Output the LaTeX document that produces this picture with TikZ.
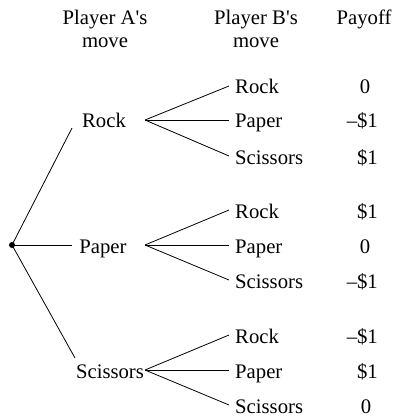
\documentclass[tikz,border=0pt]{standalone}
\usepackage{fontspec}
\setmainfont{Liberation Serif}[Ligatures=TeXOff]
\begin{document}
\begin{tikzpicture}[x=1pt,y=-1pt,
  every node/.style={font=\fontsize{20.7}{23}\selectfont, inner sep=0pt, text height=18pt, text depth=2pt},
  lbl/.style={anchor=west, inner xsep=6pt, inner ysep=0pt},
  pay/.style={anchor=east},
  branch/.style={line width=0.8pt}]
\useasboundingbox (0,0) rectangle (395,417);
% headers
\node (hA1) at (105,17) {Player A's};
\node (hA2) at (105,40) {move};
\node (hB1) at (256,17) {Player B's};
\node (hB2) at (256,40) {move};
\node (hP) at (364,17) {Payoff};
% root
\fill (12,245) circle (3pt);
\coordinate (root) at (12,245);
% A labels
\node (aR) at (104,120) {Rock};
\node (aP) at (103,245) {Paper};
\node (aS) at (110,370) {Scissors};
\coordinate (eR) at (72,128);
\coordinate (eP) at (72,245);
\coordinate (eS) at (75,358);
\draw[branch] (root) -- (eR);
\draw[branch] (root) -- (eP);
\draw[branch] (root) -- (eS);
% apices
\coordinate (xR) at (145,120);
\coordinate (xP) at (145,245);
\coordinate (xS) at (145,370);
% B labels
\node[lbl] (b1) at (229,86) {Rock};
\node[lbl] (b2) at (229,120) {Paper};
\node[lbl] (b3) at (229,156) {Scissors};
\node[lbl] (b4) at (229,210) {Rock};
\node[lbl] (b5) at (229,245) {Paper};
\node[lbl] (b6) at (229,280) {Scissors};
\node[lbl] (b7) at (229,335) {Rock};
\node[lbl] (b8) at (229,370) {Paper};
\node[lbl] (b9) at (229,405) {Scissors};
\foreach \b in {b1,b2,b3} \draw[branch] (xR) -- (\b.west);
\foreach \b in {b4,b5,b6} \draw[branch] (xP) -- (\b.west);
\foreach \b in {b7,b8,b9} \draw[branch] (xS) -- (\b.west);
% payoffs
\node (p1) at (365,86) {0};
\node[pay] (p2) at (378,120) {\textendash\$1};
\node[pay] (p3) at (378,156) {\$1};
\node[pay] (p4) at (378,210) {\$1};
\node (p5) at (365,245) {0};
\node[pay] (p6) at (378,280) {\textendash\$1};
\node[pay] (p7) at (378,335) {\textendash\$1};
\node[pay] (p8) at (378,370) {\$1};
\node (p9) at (366,405) {0};
\end{tikzpicture}
\end{document}
